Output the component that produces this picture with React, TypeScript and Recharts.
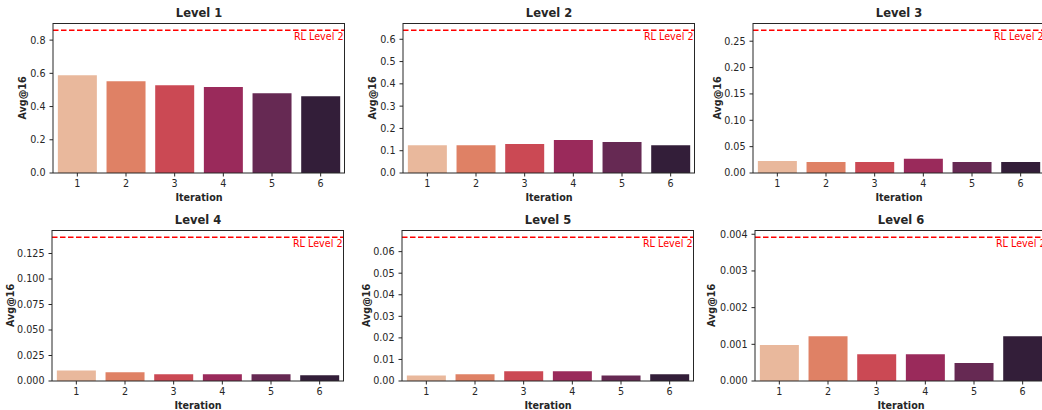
import React from 'react';
import { BarChart, Bar, Cell, XAxis, YAxis, ReferenceLine } from 'recharts';

const iterations = ['1', '2', '3', '4', '5', '6'];
const titles = ['Level 1', 'Level 2', 'Level 3', 'Level 4', 'Level 5', 'Level 6'];

// Avg@16 per iteration, one array per level
const level1 = [0.589, 0.553, 0.529, 0.517, 0.480, 0.462];
const level2 = [0.125, 0.125, 0.130, 0.148, 0.139, 0.125];
const level3 = [0.023, 0.021, 0.021, 0.027, 0.021, 0.021];
const level4 = [0.0104, 0.0085, 0.0066, 0.0066, 0.0066, 0.0057];
const level5 = [0.0026, 0.0031, 0.0045, 0.0045, 0.0026, 0.0031];
const level6 = [0.00098, 0.00122, 0.00073, 0.00073, 0.00049, 0.00122];
const levels = [level1, level2, level3, level4, level5, level6];

// "RL Level 2" reference per level
const rlLevel2 = [0.86, 0.641, 0.271, 0.141, 0.0667, 0.00392];

const yTicks = [
  [0, 0.2, 0.4, 0.6, 0.8],
  [0, 0.1, 0.2, 0.3, 0.4, 0.5, 0.6],
  [0, 0.05, 0.1, 0.15, 0.2, 0.25],
  [0, 0.025, 0.05, 0.075, 0.1, 0.125],
  [0, 0.01, 0.02, 0.03, 0.04, 0.05, 0.06],
  [0, 0.001, 0.002, 0.003, 0.004],
];
const tickDecimals = [1, 1, 2, 3, 2, 3];

// rocket_r, desaturated like seaborn bars
const palette = ['#e9b89c', '#df8165', '#cb4954', '#9a2a5b', '#662953', '#331e39'];

const FONT = '"DejaVu Sans", sans-serif';
const INK = '#262626';
const PLOT_W = 292;
const MARGIN_TOP = 23;
const X_AXIS_H = 30;

// panel placement: column x, row y, plot left inside panel, y-label centre, title top
const layout = [
  { x: 0, y: 0, left: 53, labelX: 22, plotH: 150, titleTop: 7.6 },
  { x: 350, y: 0, left: 53, labelX: 22, plotH: 150, titleTop: 7.6 },
  { x: 700, y: 0, left: 53, labelX: 17, plotH: 150, titleTop: 7.6 },
  { x: 0, y: 207, left: 52, labelX: 10, plotH: 151, titleTop: 8.3 },
  { x: 350, y: 207, left: 52, labelX: 16, plotH: 151, titleTop: 8.3 },
  { x: 700, y: 207, left: 55, labelX: 11, plotH: 151, titleTop: 8.3 },
];

const YTitle = ({ viewBox, at }: any) => {
  const x = viewBox.x + at;
  const cy = viewBox.y + viewBox.height / 2;
  return (
    <text x={x} y={cy} transform={`rotate(-90, ${x}, ${cy})`} textAnchor="middle"
      dominantBaseline="central" fontFamily={FONT} fontSize={9.6} fontWeight="bold" fill={INK}>
      Avg@16
    </text>
  );
};

const XTitle = ({ viewBox }: any) => (
  <text x={viewBox.x + viewBox.width / 2} y={viewBox.y + 27.5} textAnchor="middle"
    fontFamily={FONT} fontSize={9.6} fontWeight="bold" fill={INK}>
    Iteration
  </text>
);

// text sits just under the dashed line, right-aligned to the plot edge
const RlTag = ({ viewBox }: any) => (
  <text x={viewBox.x + viewBox.width - 1.5} y={viewBox.y + 10.3} textAnchor="end"
    fontFamily={FONT} fontSize={9.6} fill="#ff0000">
    RL Level 2
  </text>
);

const Panel = ({ idx }: { idx: number }) => {
  const lay = layout[idx];
  const values = levels[idx];
  const data = iterations.map((it, i) => ({ iter: it, value: values[i] }));
  const yMax = rlLevel2[idx] * 1.05;
  const W = lay.left + PLOT_W + 5;
  const H = MARGIN_TOP + lay.plotH + X_AXIS_H;
  const dec = tickDecimals[idx];

  return (
    <div style={{ position: 'absolute', left: lay.x, top: lay.y, width: W, height: H }}>
      <div style={{
        position: 'absolute', left: lay.left, width: PLOT_W, top: lay.titleTop, textAlign: 'center',
        fontFamily: FONT, fontWeight: 'bold', fontSize: 11.5, lineHeight: '11.5px', color: INK,
      }}>
        {titles[idx]}
      </div>
      <BarChart width={W} height={H} data={data} barCategoryGap="10%"
        margin={{ top: MARGIN_TOP, right: 5, left: 0, bottom: 0 }}>
        <XAxis dataKey="iter" interval={0} height={X_AXIS_H} tickSize={3.5} tickMargin={4}
          axisLine={{ stroke: INK }} tickLine={{ stroke: INK }}
          tick={{ fill: INK, fontSize: 9.6, fontFamily: FONT }}
          label={<XTitle />} />
        <YAxis type="number" domain={[0, yMax]} ticks={yTicks[idx]} width={lay.left}
          tickSize={3.5} tickMargin={4} axisLine={{ stroke: INK }} tickLine={{ stroke: INK }}
          tick={{ fill: INK, fontSize: 9.6, fontFamily: FONT }}
          tickFormatter={(v: number) => v.toFixed(dec)}
          label={<YTitle at={lay.labelX} />} />
        <ReferenceLine y={rlLevel2[idx]} stroke="#ff0000" strokeWidth={1.5} strokeDasharray="5.5 2.5"
          label={<RlTag />} />
        <Bar dataKey="value" isAnimationActive={false}>
          {data.map((d, i) => <Cell key={d.iter} fill={palette[i]} />)}
        </Bar>
      </BarChart>
      {/* top and right spines */}
      <div style={{
        position: 'absolute', left: lay.left, top: MARGIN_TOP, width: PLOT_W, height: lay.plotH,
        borderTop: `1px solid ${INK}`, borderRight: `1px solid ${INK}`, boxSizing: 'border-box', pointerEvents: 'none',
      }} />
    </div>
  );
};

export default function App() {
  return (
    <div style={{ position: 'absolute', left: 0, top: 0, width: 1042, height: 410, overflow: 'hidden', background: '#fff' }}>
      {levels.map((_, i) => <Panel key={titles[i]} idx={i} />)}
    </div>
  );
}
